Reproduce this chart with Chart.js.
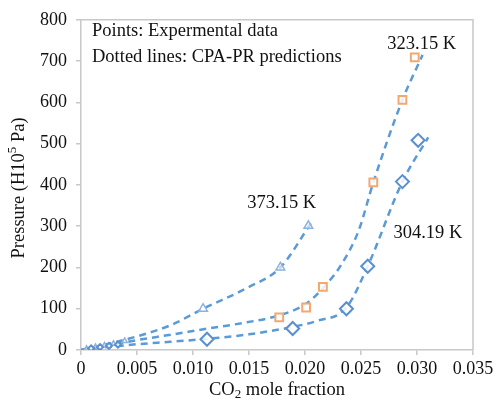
<!DOCTYPE html>
<html>
<head>
<meta charset="utf-8">
<script src="https://cdn.jsdelivr.net/npm/chart.js@4.4.1/dist/chart.umd.min.js"></script>
<style>
  html, body { margin: 0; padding: 0; background: #fff; }
  #wrap { width: 503px; height: 401px; }
</style>
</head>
<body>
<div id="wrap"><canvas id="c" width="503" height="401"></canvas></div>
<script>
// Experimental points (CO2 mole fraction, pressure in 10^5 Pa)
const x304 = [0.0009, 0.0017, 0.0025, 0.0033, 0.01125, 0.0189, 0.0237, 0.0256, 0.0287, 0.0301];
const p304 = [4, 7, 10, 13, 26, 52, 100, 203, 408, 508];
const x323 = [0.0177, 0.0201, 0.0216, 0.0261, 0.0287, 0.0298];
const p323 = [79, 103, 153, 406, 606, 709];
const x373 = [0.0005, 0.0013, 0.0021, 0.0029, 0.0039, 0.0109, 0.0178, 0.0203];
const p373 = [3, 7, 11, 15, 22, 100, 200, 301];

// CPA-PR prediction curves
const cx304 = [0, 0.002, 0.005, 0.008, 0.01125, 0.015, 0.0189, 0.021, 0.0237, 0.0256, 0.0287, 0.031];
const cp304 = [0, 6, 14, 20, 27, 38, 56, 70, 103, 203, 408, 515];
const cx323 = [0, 0.002, 0.005, 0.008, 0.0113, 0.0148, 0.0177, 0.0201, 0.0216, 0.0232, 0.0248, 0.0261, 0.0287, 0.0305];
const cp323 = [0, 9, 24, 37, 52, 67, 84, 112, 150, 205, 290, 406, 606, 715];
const cx373 = [0, 0.002, 0.005, 0.008, 0.0109, 0.0148, 0.0178, 0.0206];
const cp373 = [0, 12, 33, 60, 100, 150, 200, 310];

// Axis ticks
const xTickValues = [0, 0.005, 0.010, 0.015, 0.020, 0.025, 0.030, 0.035];
const xTickLabels = ['0', '0.005', '0.010', '0.015', '0.020', '0.025', '0.030', '0.035'];
const yTickValues = [0, 100, 200, 300, 400, 500, 600, 700, 800];

// Text labels
const tempLabels = [
  { text: '323.15 K', x: 0.02735, y: 742 },
  { text: '373.15 K', x: 0.01485, y: 357 },
  { text: '304.19 K', x: 0.0279, y: 284 }
];
const noteLines = ['Points: Expermental data', 'Dotted lines: CPA-PR predictions'];

const pairs = (xs, ys) => xs.map((x, i) => ({ x: x, y: ys[i] }));
const FONT = '"Liberation Serif", "Times New Roman", serif';
const TEXT = '#111';
const LINE_BLUE = '#5b9bd5';
const smallNearOrigin = (big, small) => ctx => {
  const r = ctx.raw;
  return r && r.x < 0.0045 ? small : big;
};

Chart.defaults.font.family = FONT;
Chart.defaults.color = TEXT;

const curve = (xs, ys) => ({
  type: 'scatter',
  data: pairs(xs, ys),
  showLine: true,
  borderColor: LINE_BLUE,
  borderWidth: 2.5,
  borderDash: [7, 5],
  pointRadius: 0,
  cubicInterpolationMode: 'monotone',
  order: 2
});

const frame = {
  id: 'frame',
  beforeDatasetsDraw(chart) {
    const { ctx, chartArea: a } = chart;
    ctx.save();
    ctx.strokeStyle = '#c8c8c8';
    ctx.lineWidth = 1.5;
    ctx.beginPath();
    ctx.moveTo(a.left, a.top);
    ctx.lineTo(a.right, a.top);
    ctx.lineTo(a.right, a.bottom);
    ctx.stroke();
    ctx.restore();
  },
  afterDraw(chart) {
    const { ctx, chartArea: a, scales } = chart;
    ctx.save();
    ctx.fillStyle = TEXT;
    ctx.textBaseline = 'middle';
    const big = '18.5px ' + FONT, sm = '13px ' + FONT;
    ctx.font = big;

    // notes in the upper left
    ctx.textAlign = 'left';
    ctx.fillText(noteLines[0], a.left + 11, 31);
    ctx.fillText(noteLines[1], a.left + 11, 57);

    // temperature labels
    tempLabels.forEach(l => {
      ctx.fillText(l.text, scales.x.getPixelForValue(l.x), scales.y.getPixelForValue(l.y));
    });

    // x axis title: CO2 mole fraction
    ctx.font = big;
    const wCO = ctx.measureText('CO').width;
    const wRest = ctx.measureText(' mole fraction').width;
    ctx.font = sm;
    const w2 = ctx.measureText('2').width;
    const x0 = (a.left + a.right) / 2 - (wCO + w2 + wRest) / 2;
    const ty = 390;
    ctx.font = big;
    ctx.fillText('CO', x0, ty);
    ctx.font = sm;
    ctx.fillText('2', x0 + wCO, ty + 5);
    ctx.font = big;
    ctx.fillText(' mole fraction', x0 + wCO + w2, ty);

    // y axis title: Pressure (H10^5 Pa)
    ctx.translate(19, (a.top + a.bottom) / 2 + 3);
    ctx.rotate(-Math.PI / 2);
    ctx.font = big;
    const wA = ctx.measureText('Pressure (H10').width;
    const wB = ctx.measureText(' Pa)').width;
    ctx.font = sm;
    const w5 = ctx.measureText('5').width;
    const s = -(wA + w5 + wB) / 2;
    ctx.font = big;
    ctx.fillText('Pressure (H10', s, 0);
    ctx.font = sm;
    ctx.fillText('5', s + wA, -6);
    ctx.font = big;
    ctx.fillText(' Pa)', s + wA + w5, 0);
    ctx.restore();
  }
};

new Chart(document.getElementById('c'), {
  type: 'scatter',
  data: {
    datasets: [
      {
        label: '304.19 K',
        data: pairs(x304, p304),
        pointStyle: 'rectRot',
        pointRadius: smallNearOrigin(6.5, 3),
        pointBorderWidth: 2,
        borderColor: '#5a8fd0',
        backgroundColor: 'rgba(255,255,255,0.85)',
        order: 1
      },
      {
        label: '323.15 K',
        data: pairs(x323, p323),
        pointStyle: 'rect',
        pointRadius: 5.5,
        pointBorderWidth: 2,
        borderColor: '#f4a870',
        backgroundColor: 'rgba(255,255,255,0.85)',
        order: 1
      },
      {
        label: '373.15 K',
        data: pairs(x373, p373),
        pointStyle: 'triangle',
        pointRadius: smallNearOrigin(5, 3),
        pointBorderWidth: 1.5,
        borderColor: '#8db2de',
        backgroundColor: 'rgba(255,255,255,0.6)',
        order: 1
      },
      curve(cx304, cp304),
      curve(cx323, cp323),
      curve(cx373, cp373)
    ]
  },
  options: {
    responsive: false,
    animation: false,
    events: [],
    layout: { padding: { left: 0, right: 30, top: 15, bottom: 0 } },
    plugins: { legend: { display: false }, tooltip: { enabled: false } },
    scales: {
      x: {
        type: 'linear',
        min: 0, max: 0.035,
        afterBuildTicks: sc => { sc.ticks = xTickValues.map(v => ({ value: v })); },
        afterFit: sc => { sc.height = 51; },
        ticks: {
          callback: (v, i) => xTickLabels[i],
          font: { family: FONT, size: 18 },
          color: TEXT,
          padding: 3,
          maxRotation: 0,
          autoSkip: false
        },
        grid: { drawOnChartArea: false, tickLength: 5, color: '#c8c8c8', lineWidth: 1.5 },
        border: { color: '#c8c8c8', width: 1.5 }
      },
      y: {
        type: 'linear',
        min: 0, max: 800,
        afterBuildTicks: sc => { sc.ticks = yTickValues.map(v => ({ value: v })); },
        afterFit: sc => { sc.width = 81; },
        ticks: {
          font: { family: FONT, size: 18 },
          color: TEXT,
          padding: 9
        },
        grid: { drawOnChartArea: false, tickLength: 5, color: '#c8c8c8', lineWidth: 1.5 },
        border: { color: '#c8c8c8', width: 1.5 }
      }
    }
  },
  plugins: [frame]
});
</script>
</body>
</html>
